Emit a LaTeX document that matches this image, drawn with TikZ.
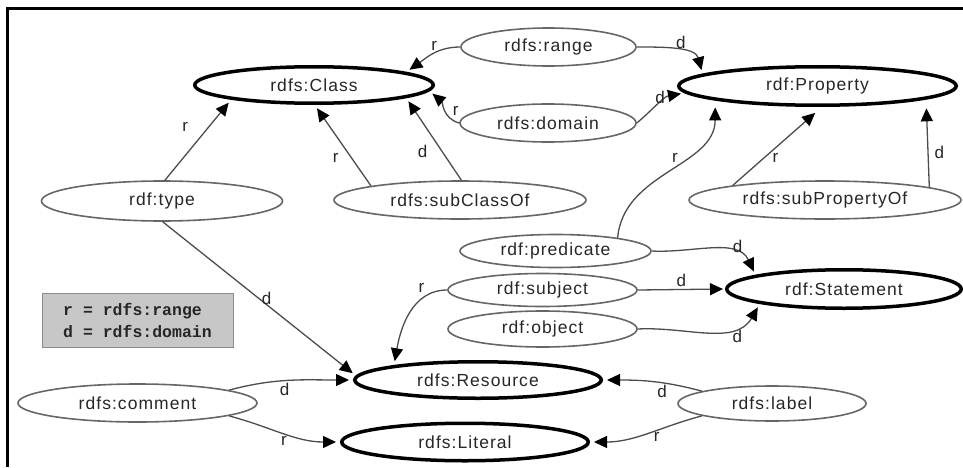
\documentclass[tikz,border=0pt]{standalone}
\usepackage{fontspec}
\setmainfont{Liberation Sans}[LetterSpace=6]
\newfontfamily\keyfont{Liberation Mono}
\usetikzlibrary{arrows.meta,shapes.geometric}

\begin{document}
\begin{tikzpicture}[x=1pt,y=1pt,
  every node/.style={font=\fontsize{17.5}{20}\selectfont, text=black!85},
  cls/.style={ellipse, draw=black, line width=3.5pt, inner sep=0pt},
  prp/.style={ellipse, draw=black!60, line width=1.6pt, inner sep=0pt},
  link/.style={draw=black!70, line width=1.3pt,
    -{Triangle[length=13pt,width=12pt,color=black]}, shorten >=4pt},
  far/.style={shorten >=9pt},
  lbl/.style={font=\fontsize{17}{20}\selectfont, inner sep=2pt},
  keybox/.style={draw=black!45, fill=black!22, line width=1pt,
    minimum width=191pt, minimum height=54pt, align=left,
    font=\keyfont\bfseries\fontsize{16.5}{22}\selectfont}
]
\useasboundingbox (0,0) rectangle (963,467);
\draw[line width=3pt] (7,0) -- (7,458) -- (963,458);

% classes
\node[cls, minimum width=238.5pt, minimum height=36.5pt] (class) at (314,382) {rdfs:Class};
\node[cls, minimum width=277.5pt, minimum height=38.5pt] (property) at (817.5,381) {rdf:Property};
\node[cls, minimum width=234.5pt, minimum height=38.5pt] (statement) at (844,178) {rdf:Statement};
\node[cls, minimum width=246.5pt, minimum height=36.5pt] (resource) at (478,87) {rdfs:Resource};
\node[cls, minimum width=246.5pt, minimum height=37.5pt] (literal) at (465,25) {rdfs:Literal};

% properties
\node[prp, minimum width=175pt, minimum height=38pt] (range) at (548.5,420) {rdfs:range};
\node[prp, minimum width=176pt, minimum height=38pt] (domain) at (548,344) {rdfs:domain};
\node[prp, minimum width=241pt, minimum height=40pt] (type) at (162,266) {rdf:type};
\node[prp, minimum width=252pt, minimum height=38pt] (subclass) at (460,267) {rdfs:subClassOf};
\node[prp, minimum width=272pt, minimum height=38pt] (subprop) at (825,267) {rdfs:subPropertyOf};
\node[prp, minimum width=191pt, minimum height=33pt] (predicate) at (555.5,216) {rdf:predicate};
\node[prp, minimum width=189pt, minimum height=33pt] (subject) at (542.5,177) {rdf:subject};
\node[prp, minimum width=189pt, minimum height=36pt] (object) at (542.5,138) {rdf:object};
\node[prp, minimum width=239pt, minimum height=38pt] (comment) at (137.5,64) {rdfs:comment};
\node[prp, minimum width=188pt, minimum height=35pt] (label) at (772,63.5) {rdfs:label};

% key
\node[keybox] (key) at (137.5,147) {r = rdfs:range\\d = rdfs:domain};

% range (r) and domain (d) constraints
\draw[link] (range.west) to[out=180,in=35] node[lbl,pos=0.45,above]{r} (class.8);
\draw[link] (range.east) to[out=0,in=105] node[lbl,pos=0.55,above]{d} (property.174);
\draw[link] (domain.west) to[out=165,in=-40] node[lbl,pos=0.45,right=6pt]{r} (class.-3);
\draw[link] (domain.east) to[out=40,in=-170] node[lbl,pos=0.75,left=3pt]{d} (property.183);

\draw[link] (type.82) -- node[lbl,pos=0.66,left=18pt]{r} (class.190);
\draw[link] (subclass.171) -- node[lbl,pos=0.35,left=10pt]{r} (class.-88);
\draw[link] (subclass.86) -- node[lbl,pos=0.35,left=12pt]{d} (class.-8);
\draw[link] (type.-88) -- node[lbl,pos=0.5,anchor=west]{d} (resource.178);

\draw[link,shorten >=7pt] (predicate.12) to[out=85,in=-90] node[lbl,pos=0.6,left=2pt]{r} (property.188);
\draw[link,far] (subprop.171) -- node[lbl,pos=0.35,right=6pt]{r} (property.-78);
\draw[link,far] (subprop.7) -- node[lbl,pos=0.4,right=4pt]{d} (property.-7);

\draw[link] (predicate.east) to[out=-3,in=115] node[lbl,pos=0.75,above]{d} (statement.171);
\draw[link,shorten >=2pt] (subject.east) -- node[lbl,above]{d} (statement.west);
\draw[link] (object.east) to[out=3,in=-120] node[lbl,pos=0.75,below=2pt]{d} (statement.190);

\draw[link] (subject.west) to[out=180,in=80] node[lbl,pos=0.22,above left]{r} (resource.170);
\draw[link] (comment.8) to[out=15,in=180] node[lbl,pos=0.45,below]{d} (resource.west);
\draw[link] (comment.-8) to[out=-15,in=180] node[lbl,pos=0.5,below]{r} (literal.west);
\draw[link] (label.170) to[out=165,in=0] node[lbl,pos=0.4,below]{d} (resource.east);
\draw[link] (label.190) to[out=195,in=0] node[lbl,pos=0.4,below]{r} (literal.east);
\end{tikzpicture}
\end{document}
